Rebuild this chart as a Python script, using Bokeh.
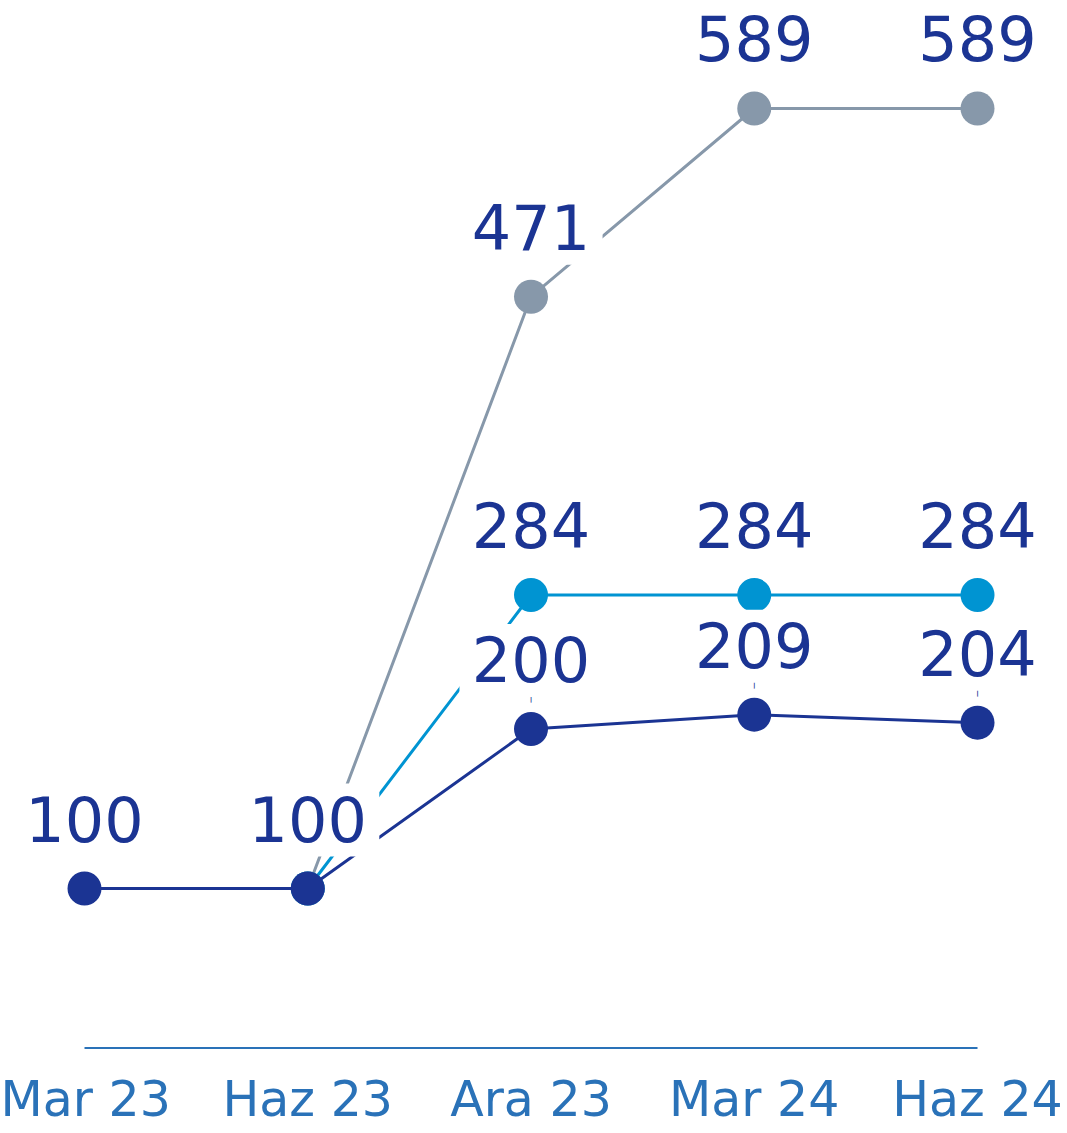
from bokeh.plotting import figure
from bokeh.models import ColumnDataSource, LabelSet, Range1d, FixedTicker
from bokeh.embed import file_html
from bokeh.resources import INLINE
from bokeh.core.properties import value

# ---- data ----
periods = ["Mar 23", "Haz 23", "Ara 23", "Mar 24", "Haz 24"]
navy_vals = [100, 100, 200, 209, 204]
blue_vals = [float("nan"), 100, 284, 284, 284]
gray_vals = [float("nan"), 100, 471, 589, 589]
navy_labeled = [0, 1, 2, 3, 4]
blue_labeled = [2, 3, 4]
gray_labeled = [2, 3, 4]
leader_idx = [2, 3, 4]
baseline_value = 0

NAVY = "#1b3493"
BLUE = "#0094d2"
GRAY = "#8798aa"
AXIS = "#2a72b8"
FONT = "DejaVu Sans"

xs = list(range(len(periods)))

p = figure(frame_width=1067, frame_height=1056,
           x_range=Range1d(-0.3763, 4.4031), y_range=Range1d(-5.3, 656.7),
           output_backend="svg", toolbar_location=None,
           y_axis_location=None, min_border=0,
           min_border_left=0, min_border_right=0, min_border_top=0)
p.outline_line_color = None
p.grid.visible = False
p.background_fill_color = "white"

xa = p.xaxis[0]
xa.ticker = FixedTicker(ticks=xs)
xa.major_label_overrides = {i: lab for i, lab in enumerate(periods)}
xa.axis_line_color = None
xa.major_tick_line_color = None
xa.minor_tick_line_color = None
xa.major_label_text_font = FONT
xa.major_label_text_font_size = "49px"
xa.major_label_text_color = AXIS
xa.major_label_standoff = 8

# baseline
p.line(x=[xs[0], xs[-1]], y=[baseline_value, baseline_value], line_color=AXIS, line_width=2)

for vals, col in [(gray_vals, GRAY), (blue_vals, BLUE), (navy_vals, NAVY)]:
    src = ColumnDataSource(dict(x=xs, y=vals))
    p.line("x", "y", source=src, line_color=col, line_width=3)
    p.scatter("x", "y", source=src, size=34, fill_color=col, line_color=None)

# leader ticks
p.text(x=[xs[i] for i in leader_idx], y=[navy_vals[i] for i in leader_idx],
       text=["|"] * len(leader_idx), text_font=value(FONT), text_font_size="7px",
       text_font_style="bold", text_color=NAVY, text_align="center",
       text_baseline="middle", y_offset=-30)

THIN = "\u2009"

def labels(vals, idx):
    src = ColumnDataSource(dict(x=[xs[i] for i in idx], y=[vals[i] for i in idx],
                                t=[THIN + str(int(vals[i])) + THIN for i in idx]))
    return LabelSet(x="x", y="y", text="t", source=src, y_offset=47,
                    text_align="center", text_baseline="alphabetic",
                    text_font=value(FONT), text_font_size="62px", text_color=NAVY,
                    background_fill_color="white")

for vals, idx in [(gray_vals, gray_labeled), (blue_vals, blue_labeled), (navy_vals, navy_labeled)]:
    p.add_layout(labels(vals, idx))

open("out.html", "w").write(file_html(p, INLINE))
